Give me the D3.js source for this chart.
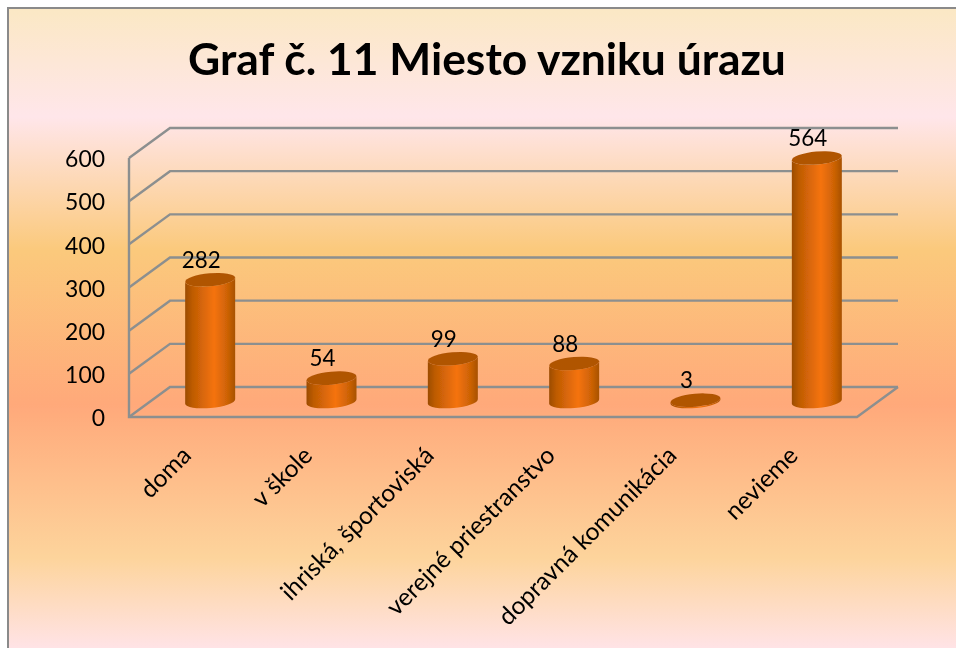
<!DOCTYPE html>
<html>
<head>
<meta charset="utf-8">
<script src="https://cdn.jsdelivr.net/npm/d3@7"></script>
<style>
  html, body { margin: 0; padding: 0; background: #fff; }
  svg { display: block; }
  text { font-family: Lato, "Open Sans", sans-serif; fill: #000; }
</style>
</head>
<body>
<svg id="graph" width="956" height="648"></svg>
<script>
var titleText = 'Graf č. 11 Miesto vzniku úrazu';
var categories = ['doma', 'v škole', 'ihriská, športoviská', 'verejné priestranstvo', 'dopravná komunikácia', 'nevieme'];
var values = [282, 54, 99, 88, 3, 564];
var yTicks = [0, 100, 200, 300, 400, 500, 600];

var bgStops = [
  [0, '#fbe8c4'], [0.17, '#ffe6ea'], [0.38, '#fbc97b'],
  [0.62, '#ffa97a'], [0.86, '#fdd49c'], [1, '#ffe3e6']
];

var svg = d3.select('#graph');
var defs = svg.append('defs');

// background panel
var bg = defs.append('linearGradient').attr('id', 'bg').attr('x1', 0).attr('x2', 0).attr('y1', 0).attr('y2', 1);
bgStops.forEach(function(d){ bg.append('stop').attr('offset', d[0]).attr('stop-color', d[1]); });

var side = defs.append('linearGradient').attr('id', 'side');
[[0, '#9c4c03'], [0.14, '#bd5b05'], [0.58, '#f5730a'], [0.85, '#cc6206'], [1, '#a85203']].forEach(function(d){
  side.append('stop').attr('offset', d[0]).attr('stop-color', d[1]);
});

// the reference is a slightly soft screenshot
defs.append('filter').attr('id', 'soft').append('feGaussianBlur').attr('stdDeviation', 0.35);
var root = svg.append('g').attr('filter', 'url(#soft)');

root.append('rect')
  .attr('x', 8).attr('y', 8).attr('width', 948).attr('height', 640)
  .attr('fill', 'url(#bg)');
root.append('path').attr('d', 'M8,648V8H956')
  .attr('fill', 'none').attr('stroke', '#8a8a8a').attr('stroke-width', 2);

// scales: front plane of the 3d box
var x = d3.scaleBand().domain(categories).range([129, 857]);
var y = d3.scaleLinear().domain([0, 600]).range([417, 158]);
var depthX = 41, depthY = -30;
var gridColor = '#8c8f8f';

// walls and grid
var grid = root.append('g').attr('fill', 'none').attr('stroke', gridColor).attr('stroke-width', 2.4);
yTicks.forEach(function(t){
  var p = d3.path();
  p.moveTo(129, y(t));
  p.lineTo(129 + depthX, y(t) + depthY);
  p.lineTo(857 + depthX, y(t) + depthY);
  grid.append('path').attr('d', p.toString());
});
grid.append('path').attr('d', 'M129,' + y(600) + 'V' + y(0) + 'H857L' + (857 + depthX) + ',' + (y(0) + depthY));

// axes (text only, lines are drawn above)
var yAxis = root.append('g').attr('transform', 'translate(129,1)')
  .call(d3.axisLeft(y).tickValues(yTicks).tickSize(0).tickPadding(24));
yAxis.select('.domain').remove();
yAxis.selectAll('text')
  .attr('font-size', 24).style('font-family', 'Lato')
  .attr('textLength', function(t){ return String(t).length * 13.3; })
  .attr('lengthAdjust', 'spacingAndGlyphs');

var xAxis = root.append('g').attr('transform', 'translate(0,417)')
  .call(d3.axisBottom(x).tickSize(0));
xAxis.select('.domain').remove();
xAxis.selectAll('text')
  .attr('font-size', 24.5).style('font-family', 'Lato')
  .attr('text-anchor', 'end').attr('x', 0).attr('y', 0).attr('dy', 0)
  .attr('transform', 'translate(3,40) rotate(-45)');

// cylinders
var rx = 25, ry = 6.5, tilt = 5;
var dy = rx * Math.sin(tilt * Math.PI / 180);
function cx(d){ return x(d) + x.bandwidth() / 2 + depthX / 2; }
function topY(v){ return y(v) - 15.5; }

var bars = root.selectAll('.bar').data(values).enter().append('g').attr('class', 'bar');
bars.append('path')
  .attr('fill', 'url(#side)')
  .attr('d', function(v, i){
    var c = cx(categories[i]), t = topY(v), b = topY(0);
    return 'M' + (c - rx) + ',' + (t + dy) + 'L' + (c - rx) + ',' + (b + dy) +
      'A' + rx + ',' + ry + ' ' + (-tilt) + ' 0 0 ' + (c + rx) + ',' + (b - dy) +
      'L' + (c + rx) + ',' + (t - dy) +
      'A' + rx + ',' + ry + ' ' + (-tilt) + ' 0 1 ' + (c - rx) + ',' + (t + dy) + 'Z';
  });
bars.append('ellipse')
  .attr('fill', '#b05506')
  .attr('rx', rx).attr('ry', ry)
  .attr('transform', function(v, i){
    return 'translate(' + cx(categories[i]) + ',' + topY(v) + ') rotate(' + (-tilt) + ')';
  });

// value labels
bars.append('text')
  .attr('font-size', 24).attr('text-anchor', 'middle')
  .attr('x', function(v, i){ return cx(categories[i]) - 9; })
  .attr('y', function(v){ return topY(v) - 12; })
  .attr('textLength', function(v){ return String(v).length * 13; })
  .attr('lengthAdjust', 'spacingAndGlyphs')
  .text(function(v){ return v; });

root.append('text')
  .attr('x', 487).attr('y', 75)
  .attr('text-anchor', 'middle')
  .attr('font-size', 44.4).attr('font-weight', 700)
  .text(titleText);
</script>
</body>
</html>
